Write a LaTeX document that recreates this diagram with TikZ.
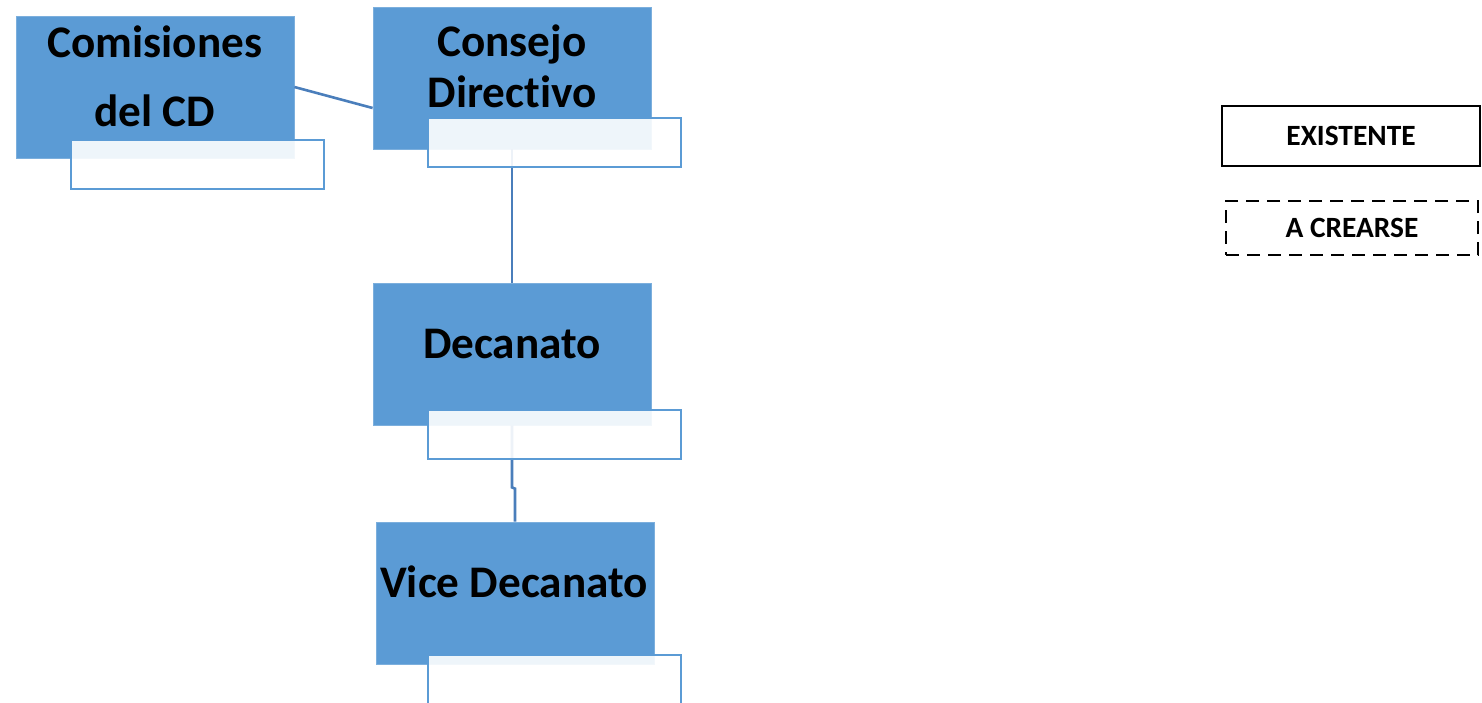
\documentclass[tikz,border=0pt]{standalone}
\usepackage{fontspec}
\setmainfont[Ligatures=NoCommon]{Carlito}
\usetikzlibrary{calc}
\definecolor{azul}{HTML}{5B9BD5}
\definecolor{enlace}{HTML}{4A7EBB}
\tikzstyle{unidad} = [rectangle, minimum width=139pt, minimum height=71pt, inner sep=0pt, draw=azul!80!white, line width=0.4pt, fill=azul]
\tikzstyle{cargo} = [rectangle, minimum width=126.5pt, minimum height=24.5pt, inner sep=0pt, draw=azul, line width=1pt, fill=white, fill opacity=0.9]
\tikzstyle{rotulo} = [inner sep=0pt, anchor=base, align=center, font=\bfseries\fontsize{22.6}{25.5}\selectfont]
\tikzstyle{leyenda} = [rectangle, minimum width=129pt, minimum height=30pt, inner sep=0pt, draw=black, line width=1pt, font=\bfseries\fontsize{14.7}{16}\selectfont]
\tikzstyle{linea} = [draw=enlace, line width=1.3pt]

\begin{document}
\begin{tikzpicture}[x=0.5pt, y=-0.5pt]
		\useasboundingbox (0,0) rectangle (1482,702);
		\node(cm) [unidad] at (155,87) {};
		\node(cd) [unidad] at (512,78) {};
		\node(dec) [unidad] at (512,354) {};
		\node(vc) [unidad] at (515,593) {};
		% base anchor = last line
		\node(cmt) [rotulo] at (155,126) {Comisiones\\[9pt]del CD};
		\node(cdt) [rotulo] at (512,107) {Consejo\\Directivo};
		\node(dect) [rotulo] at (512,358) {Decanato};
		\node(vct) [rotulo] at (514,597) {Vice Decanato};
		\draw [linea] (cm.east) -- ([yshift=-15pt]cd.west);
		\draw [linea] (cd.south) -- (dec.north);
		\draw [linea] (dec.south) -- ([yshift=-31pt]dec.south) -- ([yshift=16.5pt]vc.north) -- (vc.north);
		\node(cmc) [cargo] at (197,164.5) {};
		\node(cdc) [cargo] at (554.5,142.5) {};
		\node(decc) [cargo] at (554.5,434.5) {};
		\node(vcc) [cargo] at (554.5,679.5) {};
		\node(ex) [leyenda] at (1351,136) {EXISTENTE};
		\node(ac) [leyenda, dash pattern=on 6.5pt off 4pt, minimum width=126pt, minimum height=27pt] at (1352,228) {A CREARSE};
	\end{tikzpicture}
\end{document}
